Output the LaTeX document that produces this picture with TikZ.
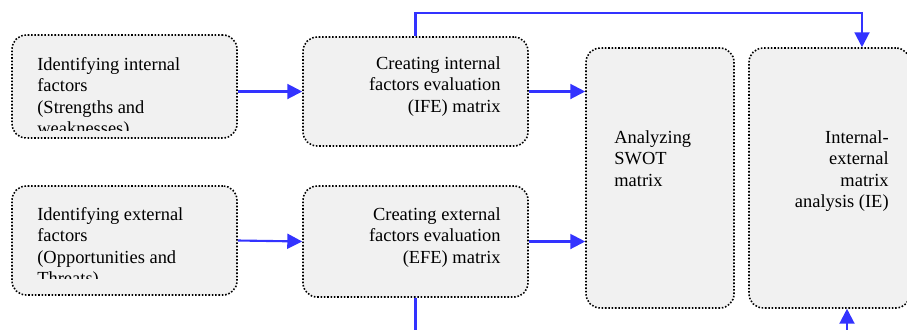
\documentclass[tikz,border=0pt]{standalone}
\usepackage{fontspec}
\setmainfont{Liberation Serif}
\usetikzlibrary{arrows.meta,calc}
\definecolor{FlowClr}{rgb}{0.2,0.2,1}
\definecolor{BoxClr}{gray}{0.945}

\tikzset{
  stage/.style={draw=black,fill=BoxClr,rounded corners=8pt,line width=0.9pt,
    dash pattern=on 0.9pt off 1.0pt,inner sep=0pt},
  flow/.style={draw=FlowClr,line width=1.2pt,-{Triangle[length=8.5pt,width=8.5pt]}},
  lbl/.style={inner sep=0pt,font=\fontsize{10.5}{12.2}\selectfont},
}

\begin{document}
\begin{tikzpicture}[x=0.02cm,y=-0.02cm]
\useasboundingbox (0,0) rectangle (907,329);

% boxes
\node[stage,minimum width=4.5cm,minimum height=2.06cm] (intl) at (124.5,86.5) {};
\node[stage,minimum width=4.5cm,minimum height=2.18cm] (ext) at (124.5,240.5) {};
\node[stage,minimum width=4.5cm,minimum height=2.18cm] (ife) at (415.5,91.5) {};
\node[stage,minimum width=4.5cm,minimum height=2.22cm] (efe) at (415.5,241.5) {};
\node[stage,minimum width=2.96cm,minimum height=5.2cm] (swot) at (660,178) {};
\node[stage,minimum width=3.22cm,minimum height=5.2cm] (ie) at (829.5,178) {};

% texts (the two left ones are cut off)
\begin{scope}
\clip (12,35) rectangle (237,130);
\node[lbl,anchor=north west,align=left] (intltxt) at (37,57)
  {Identifying internal\\factors\\(Strengths and\\weaknesses)};
\end{scope}
\begin{scope}
\clip (12,186) rectangle (237,278);
\node[lbl,anchor=north west,align=left] (exttxt) at (37,207)
  {Identifying external\\factors\\(Opportunities and\\Threats)};
\end{scope}
\node[lbl,anchor=north east,align=right] (ifetxt) at (501,56)
  {Creating internal\\factors evaluation\\(IFE) matrix};
\node[lbl,anchor=north east,align=right] (efetxt) at (501,207)
  {Creating external\\factors evaluation\\(EFE) matrix};
\node[lbl,anchor=north west,align=left] (swottxt) at (614,130)
  {Analyzing\\SWOT\\matrix};
\node[lbl,anchor=north east,align=right] (ietxt) at (889,130)
  {Internal-\\external\\matrix\\analysis (IE)};

% connectors
\coordinate (ttop) at (862,13);
\coordinate (tbot) at (847,345);
\draw[flow] (ife.west -| intl.east) -- (ife.west);
\draw[flow] (ext.east) -- (efe.west);
\draw[flow] (ife.east) -- (ife.east -| swot.west);
\draw[flow] (efe.east) -- (efe.east -| swot.west);
\draw[flow] (ife.north) |- (ttop) -- (ttop |- ie.north);
\draw[flow] (efe.south) |- (tbot) -- (tbot |- ie.south);

\end{tikzpicture}
\end{document}
